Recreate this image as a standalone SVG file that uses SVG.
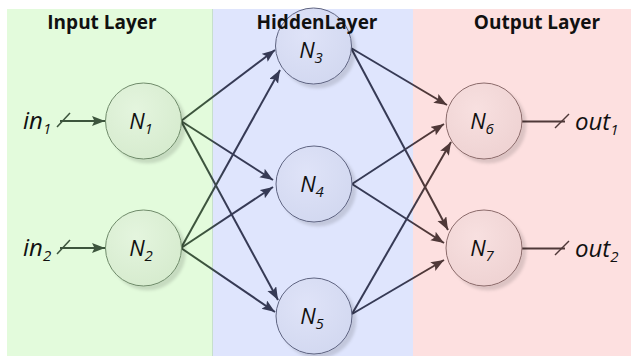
<svg xmlns="http://www.w3.org/2000/svg" width="631" height="356" viewBox="0 0 631 356">
<style>
.hdr{font-family:"Open Sans","Liberation Sans",sans-serif;font-weight:bold;font-size:19px;fill:#111;text-anchor:middle}
.lbl{font-family:"Open Sans","Liberation Sans",sans-serif;font-style:italic;font-size:24px;fill:#111}
.nl{font-family:"Open Sans","Liberation Sans",sans-serif;font-style:italic;font-size:22px;fill:#111;text-anchor:middle}
.g1{fill:url(#fg);stroke:#6f8a6a;stroke-width:1}
.g2{fill:url(#fb);stroke:#5e6380;stroke-width:1}
.g3{fill:url(#fp);stroke:#8a6a6a;stroke-width:1}
.c12{fill:none;stroke:url(#l12);stroke-width:2}
.c23{fill:none;stroke:url(#l23);stroke-width:2}
</style>
<defs>
<filter id="sh" x="-30%" y="-30%" width="160%" height="160%">
<feDropShadow dx="4" dy="4" stdDeviation="1.5" flood-color="#000" flood-opacity="0.13"/>
</filter>
<radialGradient id="fg" cx="0.4" cy="0.35" r="0.7"><stop offset="0" stop-color="#e4f5de"/><stop offset="1" stop-color="#d6ebce"/></radialGradient>
<radialGradient id="fb" cx="0.4" cy="0.35" r="0.7"><stop offset="0" stop-color="#dfe3f8"/><stop offset="1" stop-color="#d2d8f0"/></radialGradient>
<radialGradient id="fp" cx="0.4" cy="0.35" r="0.7"><stop offset="0" stop-color="#f8e0e0"/><stop offset="1" stop-color="#eed2d2"/></radialGradient>
<linearGradient id="l12" x1="0" y1="0" x2="1" y2="0"><stop offset="0.25" stop-color="#3d553d"/><stop offset="0.45" stop-color="#363a55"/></linearGradient>
<linearGradient id="l23" x1="0" y1="0" x2="1" y2="0"><stop offset="0.55" stop-color="#363a55"/><stop offset="0.75" stop-color="#4f3838"/></linearGradient>
<marker id="ag" markerUnits="userSpaceOnUse" markerWidth="14" markerHeight="11" refX="13" refY="5" orient="auto"><path d="M0,0 L13,5 L0,10 L2.5,5 z" fill="#3d553d"/></marker>
<marker id="ab" markerUnits="userSpaceOnUse" markerWidth="14" markerHeight="11" refX="13" refY="5" orient="auto"><path d="M0,0 L13,5 L0,10 L2.5,5 z" fill="#363a55"/></marker>
<marker id="ap" markerUnits="userSpaceOnUse" markerWidth="14" markerHeight="11" refX="13" refY="5" orient="auto"><path d="M0,0 L13,5 L0,10 L2.5,5 z" fill="#4f3838"/></marker>
</defs>
<rect width="631" height="356" fill="#fff"/>
<g id="panels">
<rect x="7" y="9" width="206" height="347" fill="#e3fbdc"/>
<rect x="213" y="9" width="200" height="347" fill="#dfe5fd"/>
<rect x="413" y="9" width="218" height="347" fill="#fde0e0"/>
<line x1="212.5" y1="9" x2="212.5" y2="356" stroke="#c7dfcc" stroke-width="1"/>
</g>
<g id="connectors">
<line x1="60" y1="121" x2="105" y2="121" stroke="#3d553d" stroke-width="2" marker-end="url(#ag)"/>
<line x1="57" y1="127" x2="70" y2="113" stroke="#3d553d" stroke-width="1.5"/>
<line x1="60" y1="248" x2="105" y2="248" stroke="#3d553d" stroke-width="2" marker-end="url(#ag)"/>
<line x1="57" y1="254" x2="70" y2="240" stroke="#3d553d" stroke-width="1.5"/>
<path class="c12" d="M181,121 L275,50" marker-end="url(#ab)"/>
<path class="c12" d="M181,121 L273,180" marker-end="url(#ab)"/>
<path class="c12" d="M181,121 L278,300" marker-end="url(#ab)"/>
<path class="c12" d="M181,248 L280,70" marker-end="url(#ab)"/>
<path class="c12" d="M181,248 L273,187" marker-end="url(#ab)"/>
<path class="c12" d="M181,248 L275,312" marker-end="url(#ab)"/>
<path class="c23" d="M351,48 L447,105" marker-end="url(#ap)"/>
<path class="c23" d="M351,48 L448,230" marker-end="url(#ap)"/>
<path class="c23" d="M352,184 L444,124" marker-end="url(#ap)"/>
<path class="c23" d="M352,184 L444,243" marker-end="url(#ap)"/>
<path class="c23" d="M352,314 L451,142" marker-end="url(#ap)"/>
<path class="c23" d="M352,314 L444,260" marker-end="url(#ap)"/>
<line x1="522" y1="121.5" x2="565" y2="121.5" stroke="#4f3838" stroke-width="2"/>
<line x1="555" y1="128" x2="569" y2="114" stroke="#4f3838" stroke-width="1.5"/>
<line x1="522" y1="248.5" x2="565" y2="248.5" stroke="#4f3838" stroke-width="2"/>
<line x1="555" y1="255" x2="569" y2="241" stroke="#4f3838" stroke-width="1.5"/>
</g>
<g id="in1"><text class="lbl" x="23" y="129">in<tspan font-size="15" dy="5">1</tspan></text></g>
<g id="in2"><text class="lbl" x="23" y="256">in<tspan font-size="15" dy="5">2</tspan></text></g>
<g id="N1"><circle class="g1" cx="143.5" cy="121" r="38" filter="url(#sh)"/><text class="nl" x="141" y="129">N<tspan font-size="15" dy="5">1</tspan></text></g>
<g id="N2"><circle class="g1" cx="143.5" cy="248" r="38" filter="url(#sh)"/><text class="nl" x="141" y="256">N<tspan font-size="15" dy="5">2</tspan></text></g>
<g id="N3"><circle class="g2" cx="313.5" cy="46" r="38" filter="url(#sh)"/><text class="nl" x="311" y="58">N<tspan font-size="15" dy="5">3</tspan></text></g>
<g id="N4"><circle class="g2" cx="314" cy="184" r="38" filter="url(#sh)"/><text class="nl" x="312" y="192">N<tspan font-size="15" dy="5">4</tspan></text></g>
<g id="N5"><circle class="g2" cx="314" cy="316" r="38" filter="url(#sh)"/><text class="nl" x="312" y="324">N<tspan font-size="15" dy="5">5</tspan></text></g>
<g id="N6"><circle class="g3" cx="484" cy="121" r="38" filter="url(#sh)"/><text class="nl" x="482" y="129">N<tspan font-size="15" dy="5">6</tspan></text></g>
<g id="N7"><circle class="g3" cx="484" cy="248" r="38" filter="url(#sh)"/><text class="nl" x="482" y="256">N<tspan font-size="15" dy="5">7</tspan></text></g>
<g id="out1"><text class="lbl" x="575" y="130">out<tspan font-size="15" dy="5">1</tspan></text></g>
<g id="out2"><text class="lbl" x="575" y="257">out<tspan font-size="15" dy="5">2</tspan></text></g>
<g id="headers">
<text class="hdr" x="102" y="29">Input Layer</text>
<text class="hdr" x="317" y="29">HiddenLayer</text>
<text class="hdr" x="537" y="29">Output Layer</text>
</g>
</svg>
